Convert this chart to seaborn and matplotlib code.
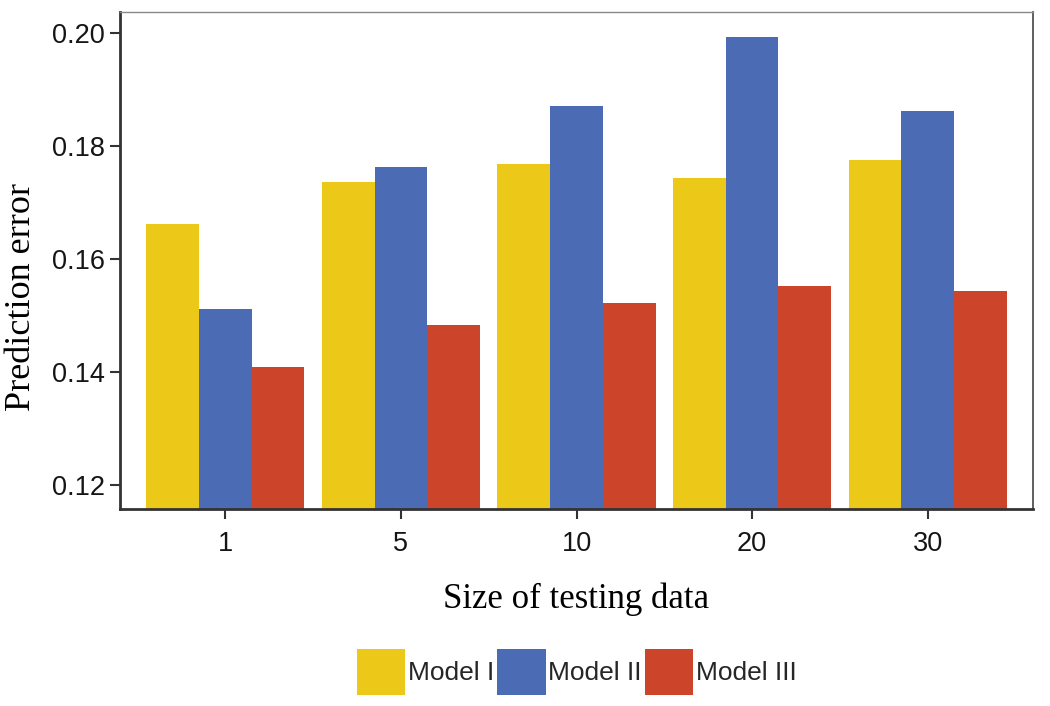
import matplotlib
matplotlib.use("Agg")
import matplotlib.pyplot as plt
import seaborn as sns
import pandas as pd

sizes = ["1", "5", "10", "20", "30"]
models = ["Model I", "Model II", "Model III"]
model1 = [0.1662, 0.1736, 0.1768, 0.1743, 0.1775]
model2 = [0.1512, 0.1763, 0.1871, 0.1993, 0.1862]
model3 = [0.1409, 0.1483, 0.1522, 0.1552, 0.1543]
colors = ["#ECC918", "#4B6BB4", "#CC452B"]
yticks = [0.12, 0.14, 0.16, 0.18, 0.20]

rows = []
for m, vals in zip(models, [model1, model2, model3]):
    for s, v in zip(sizes, vals):
        rows.append({"size": s, "model": m, "error": v})
df = pd.DataFrame(rows)

sns.set_theme(style="white")
plt.rcParams['font.family'] = ['Liberation Sans', 'DejaVu Sans']

fig = plt.figure(figsize=(10.5, 7.06), dpi=100)
ax = fig.add_axes([0.1143, 0.279, 0.8695, 0.704])

sns.barplot(data=df, x="size", y="error", hue="model", order=sizes,
            hue_order=models, palette=colors, width=0.9, saturation=1,
            linewidth=0, ax=ax, legend=True)

ax.set_xlim(-0.6, 4.6)
ax.set_ylim(0.1158, 0.2037)
ax.set_yticks(yticks)
ax.set_yticklabels([f"{t:.2f}" for t in yticks])

ax.tick_params(axis="both", direction="out", length=7, width=1.5,
               color="#333333", labelsize=19.5, labelcolor="#151515", pad=4,
               left=True, bottom=True)
ax.tick_params(axis="x", pad=9)

for side in ["left", "bottom"]:
    ax.spines[side].set_color("#333333")
    ax.spines[side].set_linewidth(2.0)
ax.spines["top"].set_color("#888888")
ax.spines["top"].set_linewidth(1.0)
ax.spines["right"].set_color("#444444")
ax.spines["right"].set_linewidth(1.2)

ax.set_xlabel("Size of testing data", family="Liberation Serif", fontsize=25,
              color="black", labelpad=18)
ax.set_ylabel("Prediction error", family="Liberation Serif", fontsize=26,
              color="black")
ax.yaxis.set_label_coords(-0.090, 0.427)

handles, labels = ax.get_legend_handles_labels()
ax.legend_.remove()
fig.legend(handles, labels, loc="center", bbox_to_anchor=(0.549, 0.048),
           ncol=3, frameon=False, fontsize=19, handlelength=1.85,
           handleheight=2.35, handletextpad=0.08, columnspacing=0.12,
           borderpad=0)

fig.savefig("out.png", dpi=100)
